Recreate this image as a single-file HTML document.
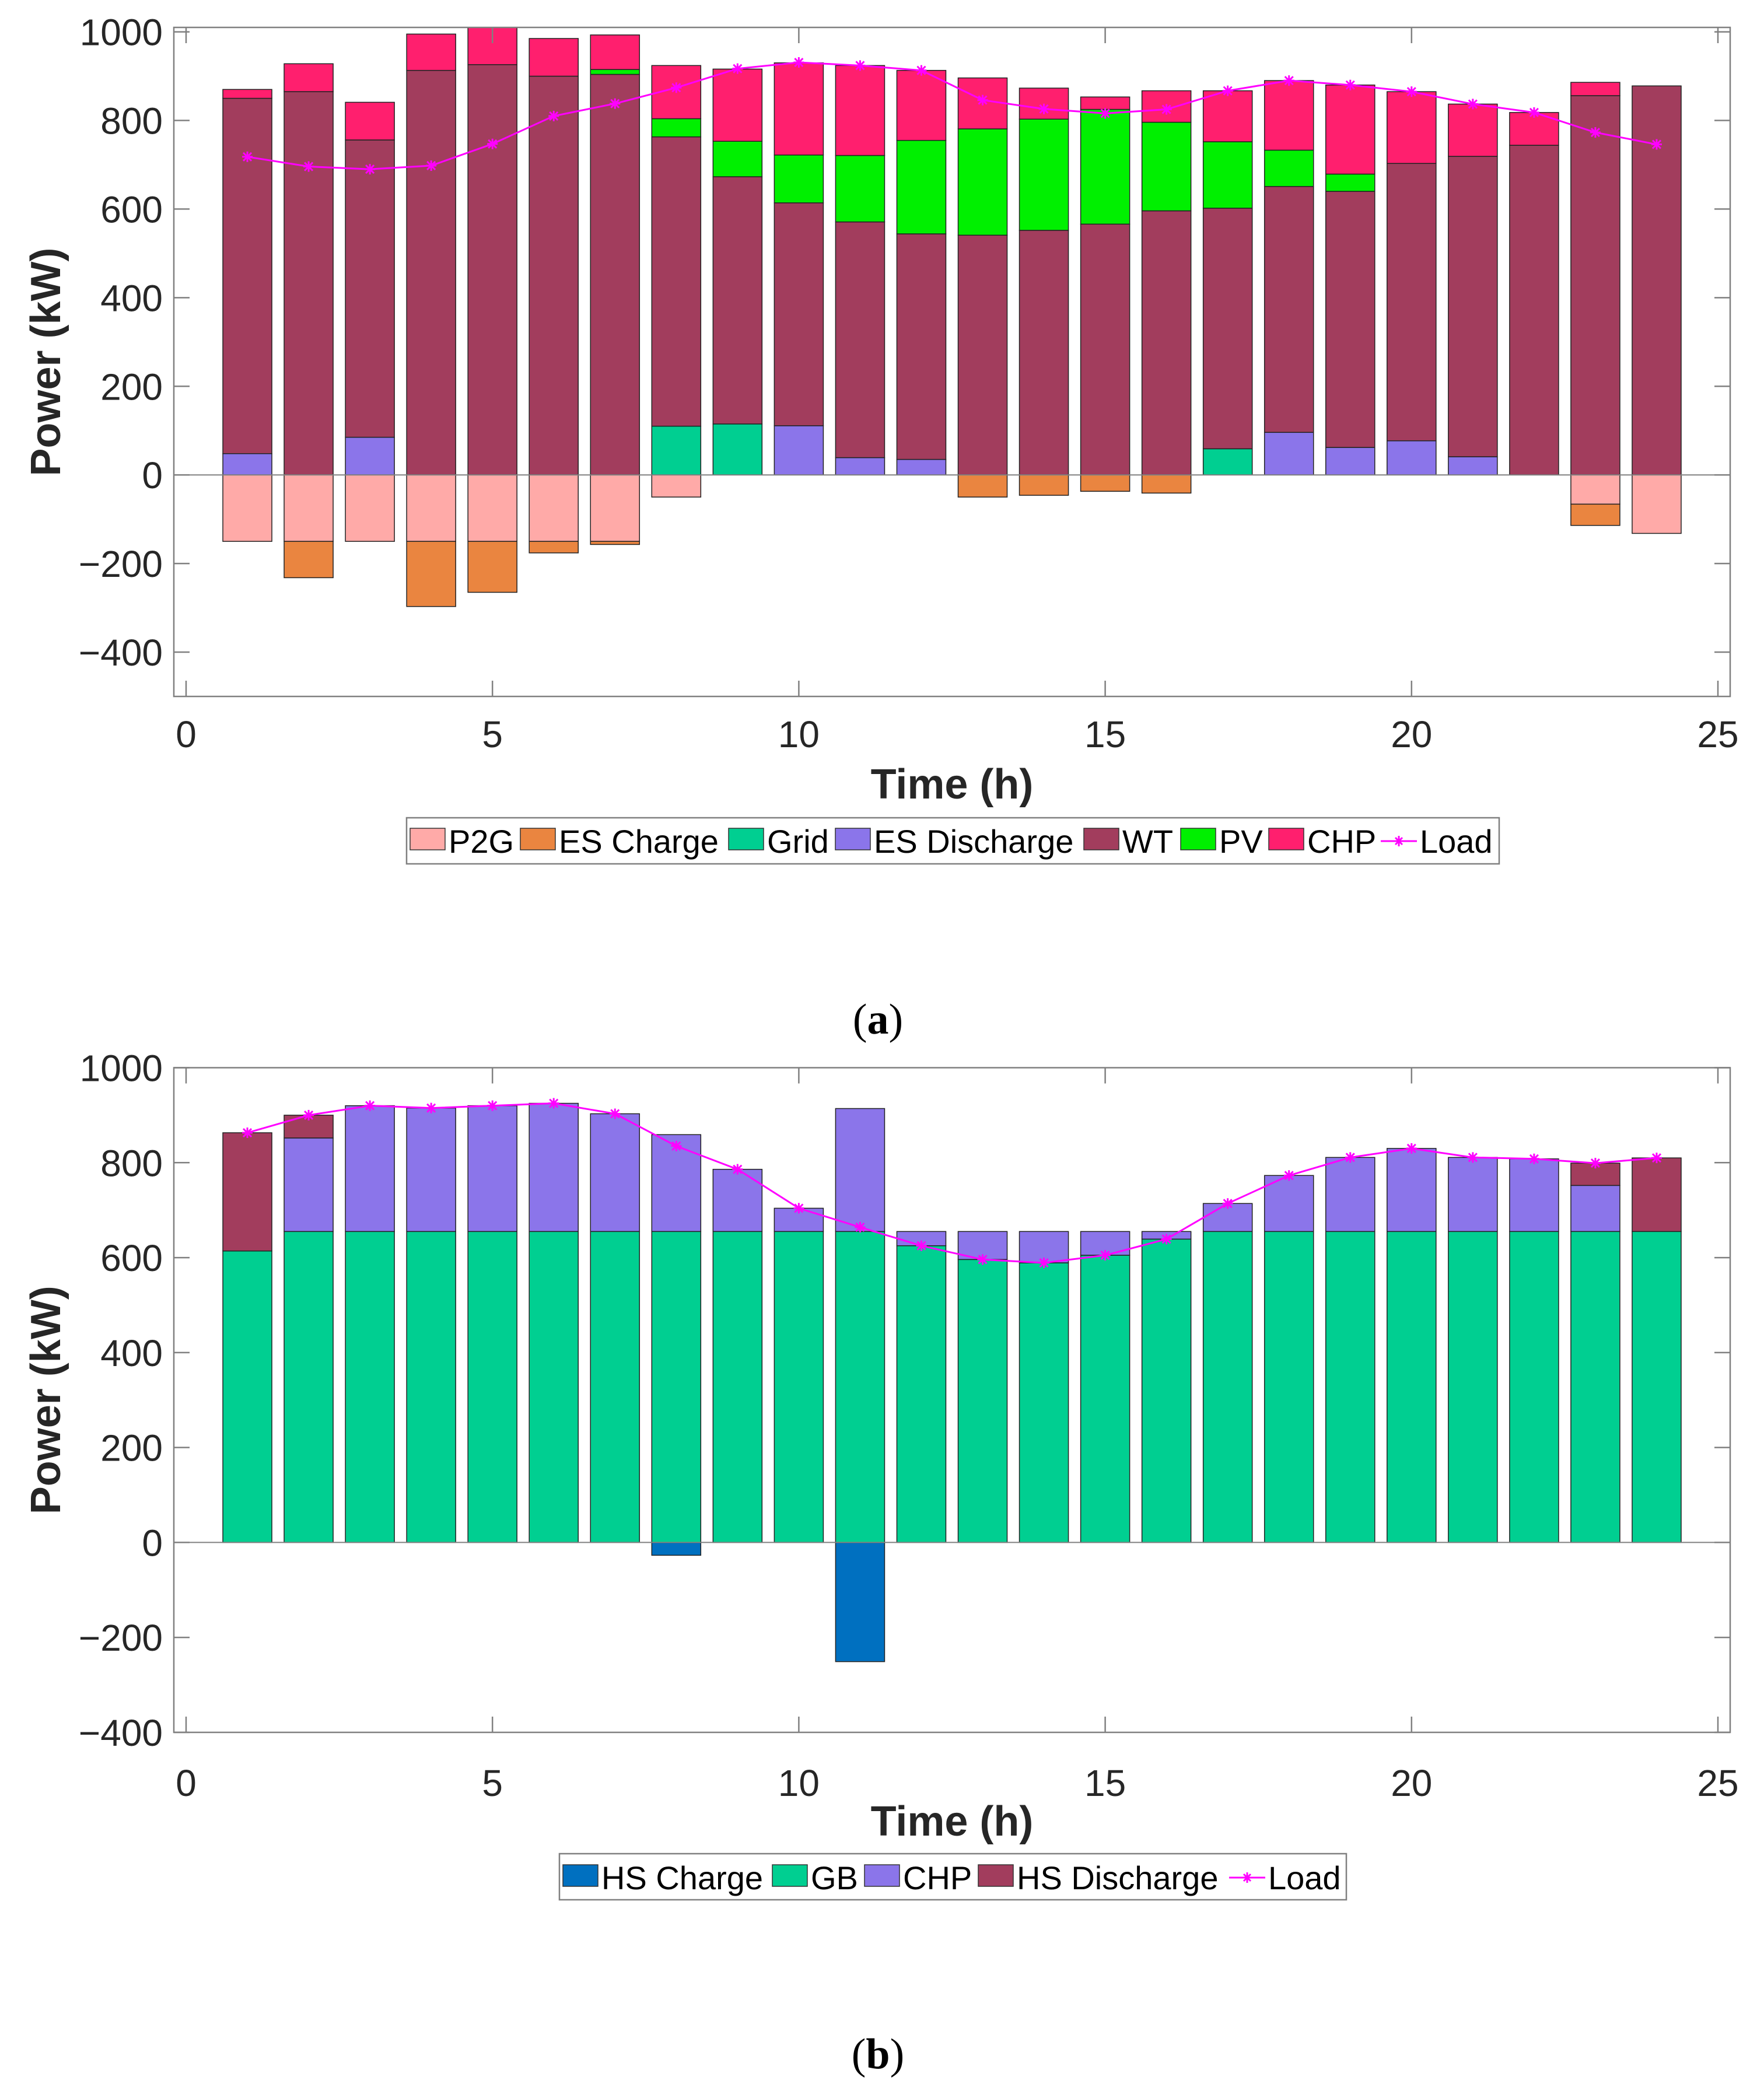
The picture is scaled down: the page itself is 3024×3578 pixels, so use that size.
<!DOCTYPE html>
<html><head><meta charset="utf-8"><style>
html,body{margin:0;padding:0;background:#fff;}
svg{display:block;font-family:"Liberation Sans",Arial,sans-serif;}
</style></head><body>
<svg id="fig" width="3024" height="3578" viewBox="0 0 3024 3578" xmlns="http://www.w3.org/2000/svg">
<rect x="0" y="0" width="3024" height="3578" fill="#fff"/>
<g id="chartA"></g>
<g id="chartB"></g>
<text x="1505" y="1772" text-anchor="middle" font-family="'Liberation Serif',serif" font-size="74" fill="#000">(<tspan font-weight="bold">a</tspan>)</text>
<text x="1505" y="3546" text-anchor="middle" font-family="'Liberation Serif',serif" font-size="74" fill="#000">(<tspan font-weight="bold">b</tspan>)</text>
</svg>
<script>
const hours = [1,2,3,4,5,6,7,8,9,10,11,12,13,14,15,16,17,18,19,20,21,22,23,24];
const xTicks = [0,5,10,15,20,25];
// Chart (a)
const yTicksA = [-400,-200,0,200,400,600,800,1000];
const p2gA   = [150,150,150,150,150,150,150,50,0,0,0,0,0,0,0,0,0,0,0,0,0,0,66,132];
const esChargeA = [0,82,0,147,115,26,7,0,0,0,0,0,50,46,37,41,0,0,0,0,0,0,48,0];
const gridA  = [0,0,0,0,0,0,0,110,115,0,0,0,0,0,0,0,59,0,0,0,0,0,0,0];
const esDischargeA = [48,0,85,0,0,0,0,0,0,111,39,35,0,0,0,0,0,96,62,77,41,0,0,0];
const wtA    = [802,865,671,913,926,900,904,653,558,503,532,509,541,552,566,596,543,555,578,626,678,744,856,878];
const pvA    = [0,0,0,0,0,0,11,41,80,108,150,211,240,251,259,200,150,82,39,0,0,0,0,0];
const chpA   = [20,63,85,82,84,85,78,120,163,208,203,158,115,70,28,71,115,157,201,162,118,74,30,0];
const loadA  = [718,696,690,698,747,810,838,874,917,931,924,913,846,826,816,825,867,890,880,865,837,818,773,746];
// Chart (b)
const yTicksB = [-400,-200,0,200,400,600,800,1000];
const hsChargeB = [0,0,0,0,0,0,0,27,0,0,251,0,0,0,0,0,0,0,0,0,0,0,0,0];
const gbB    = [614,655,655,655,655,655,655,655,655,655,655,625,596,589,605,639,655,655,655,655,655,655,655,655];
const chpB   = [0,197,265,260,265,270,248,204,131,49,259,30,59,66,50,16,59,118,156,175,156,153,97,0];
const hsDischargeB = [249,48,0,0,0,0,0,0,0,0,0,0,0,0,0,0,0,0,0,0,0,0,47,155];
const loadB  = [863,900,920,915,920,925,903,835,786,704,664,625,596,589,605,639,714,773,811,830,811,808,799,810];

const NS = "http://www.w3.org/2000/svg";
function mk(parent, tag, attrs){const e=document.createElementNS(NS,tag);for(const k in attrs)e.setAttribute(k,attrs[k]);parent.appendChild(e);return e;}

function drawChart(g, cfg){
  const L=298, R=2966, T=cfg.top, B=cfg.bottom;
  const x = v => 319 + (v-0)*(2945-319)/25;
  const y = v => B - (v-cfg.ymin)*(B-T)/(cfg.ymax-cfg.ymin);
  const bw = 0.8*(2945-319)/25;
  // bars
  cfg.neg.forEach(s=>{});
  const negBase = hours.map(()=>0), posBase = hours.map(()=>0);
  const drawSeries = (s, sign, base) => {
    hours.forEach((h,i)=>{
      const v = s.values[i];
      if(!v) return;
      const y0 = base[i], y1 = base[i] + sign*v;
      base[i] = y1;
      const top = Math.min(y(y0),y(y1)), bot = Math.max(y(y0),y(y1));
      const ct = Math.max(top, T), cb = Math.min(bot, B);
      const r = mk(g,'rect',{x:x(h)-bw/2,y:ct,width:bw,height:cb-ct,fill:s.color,stroke:'#222',"stroke-width":1.5});
      
      
    });
  };
  cfg.neg.forEach(s=>drawSeries(s,-1,negBase));
  cfg.pos.forEach(s=>drawSeries(s,1,posBase));
  // zero line
  const zl = mk(g,'line',{x1:L,x2:R,y1:y(0),y2:y(0),stroke:'#808080',"stroke-width":2});
  
  
  // load line
  const pts = hours.map((h,i)=>x(h)+','+y(cfg.load[i])).join(' ');
  const pl = mk(g,'polyline',{points:pts,fill:'none',stroke:'#ff00ff',"stroke-width":3});
  
  
  hours.forEach((h,i)=>{
    const cx=x(h), cy=y(cfg.load[i]), s=9;
    const m = mk(g,'path',{d:`M${cx-s} ${cy}H${cx+s}M${cx} ${cy-s}V${cy+s}M${cx-7} ${cy-7}L${cx+7} ${cy+7}M${cx-7} ${cy+7}L${cx+7} ${cy-7}`,stroke:'#ff00ff',"stroke-width":3});
    
    
  });
  // axes box
  const box = mk(g,'rect',{x:L,y:T,width:R-L,height:B-T,fill:'none',stroke:'#808080',"stroke-width":2.5});
  
  
  const tl=27;
  xTicks.forEach(t=>{
    const tx=x(t);
    mk(g,'line',{x1:tx,x2:tx,y1:B,y2:B-tl,stroke:'#808080',"stroke-width":2.5});
    mk(g,'line',{x1:tx,x2:tx,y1:T,y2:T+tl,stroke:'#808080',"stroke-width":2.5});
    const lb = mk(g,'text',{x:tx,y:cfg.xLabelY,"text-anchor":'middle',"font-size":64,fill:'#262626'});
    lb.textContent = t;
    
    
  });
  cfg.yticks.forEach(t=>{
    const ty=y(t);
    mk(g,'line',{x1:L,x2:L+tl,y1:ty,y2:ty,stroke:'#808080',"stroke-width":2.5});
    mk(g,'line',{x1:R,x2:R-tl,y1:ty,y2:ty,stroke:'#808080',"stroke-width":2.5});
    const lb = mk(g,'text',{x:279,y:ty+23,"text-anchor":'end',"font-size":64,fill:'#262626'});
    lb.textContent = t<0 ? '\u2212'+Math.abs(t) : String(t);
    
    
  });
  const yl = mk(g,'text',{x:0,y:0,transform:`translate(103,${(T+B)/2}) rotate(-90)`,"text-anchor":'middle',"font-size":72,"font-weight":'bold',fill:'#262626'});
  yl.textContent='Power (kW)';
  
  
  const xl = mk(g,'text',{x:1632,y:cfg.xTitleY,"text-anchor":'middle',"font-size":72,"font-weight":'bold',fill:'#262626'});
  xl.textContent='Time (h)';
  
  
  // legend
  const lg = mk(g,'g',{});
  
  
  mk(lg,'rect',{x:cfg.legend.x1,y:cfg.legend.y1,width:cfg.legend.x2-cfg.legend.x1,height:cfg.legend.y2-cfg.legend.y1,fill:'#fff',stroke:'#808080',"stroke-width":2.5});
  const yb = cfg.legend.base;
  cfg.legend.items.forEach(it=>{
    const e = mk(lg,'g',{});
    
    
    let tx;
    if(it.line){
      const my = yb-20;
      mk(e,'line',{x1:it.sx,x2:it.sx+62,y1:my,y2:my,stroke:'#ff00ff',"stroke-width":3});
      const cx=it.sx+31;
      mk(e,'path',{d:`M${cx} ${my-9}V${my+9}M${cx-6} ${my-6}L${cx+6} ${my+6}M${cx-6} ${my+6}L${cx+6} ${my-6}`,stroke:'#ff00ff',"stroke-width":3});
      tx = it.sx+67;
    } else {
      mk(e,'rect',{x:it.sx,y:yb-42,width:60,height:37,fill:it.color,stroke:'#333',"stroke-width":1.5});
      tx = it.sx+66;
    }
    const t = mk(e,'text',{x:tx,y:yb,"font-size":56,fill:'#000'});
    t.textContent = it.label;
  });
}

const C = {pink:'#ffaaa8', orange:'#ea8540', teal:'#00cf91', purple:'#8b75ea', wine:'#a23d5d', green:'#00f000', red:'#ff1f6e', blue:'#0070c0'};

drawChart(document.getElementById('chartA'), {
  top:47, bottom:1194, ymin:-500, ymax:1010, yticks:yTicksA, xLabelY:1281, xTitleY:1369,
  neg:[{name:'p2g',values:p2gA,color:C.pink},{name:'es-charge',values:esChargeA,color:C.orange}],
  pos:[{name:'grid',values:gridA,color:C.teal},{name:'es-discharge',values:esDischargeA,color:C.purple},
       {name:'wt',values:wtA,color:C.wine},{name:'pv',values:pvA,color:C.green},{name:'chp',values:chpA,color:C.red}],
  load:loadA,
  legend:{x1:697,x2:2570,y1:1402,y2:1481,base:1462,items:[
    {key:'p2g',label:'P2G',sx:703,color:C.pink},
    {key:'es-charge',label:'ES Charge',sx:892,color:C.orange},
    {key:'grid',label:'Grid',sx:1249,color:C.teal},
    {key:'es-discharge',label:'ES Discharge',sx:1432,color:C.purple},
    {key:'wt',label:'WT',sx:1858,color:C.wine},
    {key:'pv',label:'PV',sx:2024,color:C.green},
    {key:'chp',label:'CHP',sx:2175,color:C.red},
    {key:'load',label:'Load',sx:2367,line:true}]}
});

drawChart(document.getElementById('chartB'), {
  top:1830.5, bottom:2970, ymin:-400, ymax:1000, yticks:yTicksB, xLabelY:3079, xTitleY:3147,
  neg:[{name:'hs-charge',values:hsChargeB,color:C.blue}],
  pos:[{name:'gb',values:gbB,color:C.teal},{name:'chp',values:chpB,color:C.purple},{name:'hs-discharge',values:hsDischargeB,color:C.wine}],
  load:loadB,
  legend:{x1:959,x2:2308,y1:3178,y2:3257,base:3239,items:[
    {key:'hs-charge',label:'HS Charge',sx:965,color:C.blue},
    {key:'gb',label:'GB',sx:1324,color:C.teal},
    {key:'chp',label:'CHP',sx:1482,color:C.purple},
    {key:'hs-discharge',label:'HS Discharge',sx:1677,color:C.wine},
    {key:'load',label:'Load',sx:2107,line:true}]}
});
</script>
</body></html>
